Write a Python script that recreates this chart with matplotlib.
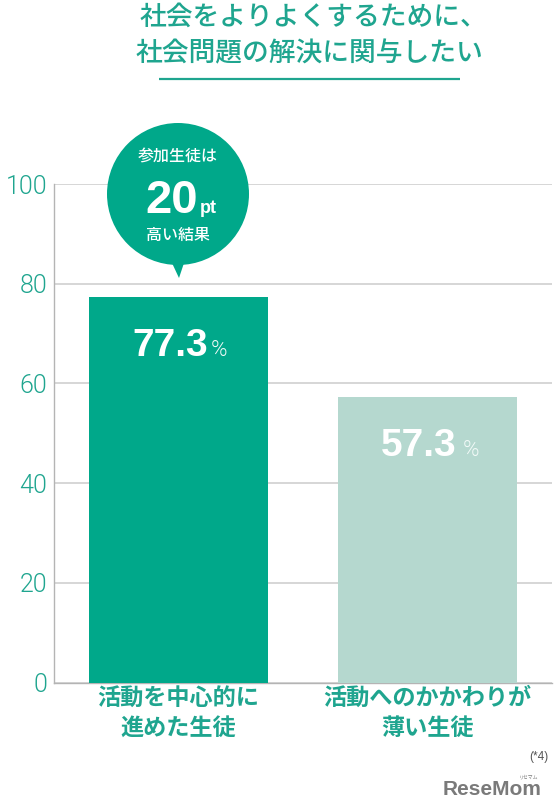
import matplotlib
matplotlib.use("Agg")
import matplotlib.pyplot as plt
from matplotlib.patches import Circle, Polygon

categories = ["活動を中心的に\n進めた生徒", "活動へのかかわりが\n薄い生徒"]
values = [77.3, 57.3]
yticks = [0, 20, 40, 60, 80, 100]
title_lines = ["社会をよりよくするために、", "社会問題の解決に関与したい"]
bubble_top = "参加生徒は"
bubble_value = "20"
bubble_unit = "pt"
bubble_bottom = "高い結果"
note = "(*4)"
logo = "ReseMom"
logo_ruby = "リセマム"

W, H = 554, 809
JP = ["Noto Sans CJK JP", "DejaVu Sans"]
NUM = ["Liberation Sans", "DejaVu Sans"]
LIGHT = ["Roboto", "DejaVu Sans"]
TEAL = "#1FA58F"
BAR1 = "#00A88A"
BAR2 = "#B5D8CF"

plt.rcParams["font.family"] = JP
fig = plt.figure(figsize=(W / 100, H / 100), dpi=100)
fig.patch.set_facecolor("white")

ax = fig.add_axes([54 / W, 1 - 682.5 / H, (552 - 54) / W, (682.5 - 184) / H])
ax.bar(range(len(values)), values, width=179 / 249, color=[BAR1, BAR2], zorder=3)
ax.set_xlim(-0.5, 1.5)
ax.set_ylim(0, 100)
ax.set_yticks(yticks)
ax.set_xticks(range(len(categories)))
ax.set_xticklabels(categories, fontsize=16.7, fontweight="bold", color=TEAL, linespacing=1.42)
ax.tick_params(axis="x", length=0, pad=3)
ax.tick_params(axis="y", length=0, pad=5)
for lab in ax.get_yticklabels():
    lab.set_family(LIGHT)
    lab.set_weight(300)
    lab.set_fontsize(18)
    lab.set_color(TEAL)
ax.grid(axis="y", color="#CFCFCF", lw=1.2, zorder=1)
ax.set_axisbelow(True)
for s in ["top", "right"]:
    ax.spines[s].set_visible(False)
for s in ["left", "bottom"]:
    ax.spines[s].set_color("#B4B4B4")
    ax.spines[s].set_linewidth(1.0)

# value labels anchored to bar tops
pct_dx = [29.5, 31]
for i, v in enumerate(values):
    ax.annotate(f"{v}", xy=(i, v), xytext=(-6, -42.5), textcoords="offset points",
                ha="center", va="baseline", color="white", fontsize=28,
                fontweight="bold", family=NUM, zorder=5)
    ax.annotate("%", xy=(i, v), xytext=(pct_dx[i], -42.5), textcoords="offset points",
                ha="center", va="baseline", color="#F2FAF8", fontsize=16,
                family=LIGHT, fontweight=300, zorder=5)

# pixel-space overlay
ov = fig.add_axes([0, 0, 1, 1], zorder=10)
ov.set_xlim(0, W)
ov.set_ylim(H, 0)
ov.axis("off")
ov.patch.set_alpha(0)

ov.text(313, 17, title_lines[0], ha="center", va="center", fontsize=19.3, fontweight="medium", color=TEAL)
ov.text(309, 54, title_lines[1], ha="center", va="center", fontsize=19.3, fontweight="medium", color=TEAL)
ov.plot([159, 460], [79, 79], color=TEAL, lw=1.6, solid_capstyle="butt")

ov.add_patch(Circle((178, 194), 71, fc=BAR1, ec="none"))
ov.add_patch(Polygon([[172, 263], [184, 263], [179, 278]], closed=True, fc=BAR1, ec="none"))
ov.text(178, 156, bubble_top, ha="center", va="center", color="white", fontsize=11.5, fontweight="medium")
ov.text(172, 213, bubble_value, ha="center", va="baseline", color="white", fontsize=34,
        fontweight="bold", family=NUM)
ov.text(208, 213, bubble_unit, ha="center", va="baseline", color="white", fontsize=13,
        fontweight="bold", family=NUM)
ov.text(178, 235, bubble_bottom, ha="center", va="center", color="white", fontsize=11.5, fontweight="medium")

ov.text(548, 757, note, ha="right", va="center", fontsize=8.5, color="#555555", family=NUM)
ov.text(542, 795, logo, ha="right", va="baseline", fontsize=15, color="#7A7A7A",
        fontweight="bold", family=NUM)
ov.text(538, 777, logo_ruby, ha="right", va="center", fontsize=3.5, color="#7A7A7A")

fig.savefig("out.png", dpi=100)
